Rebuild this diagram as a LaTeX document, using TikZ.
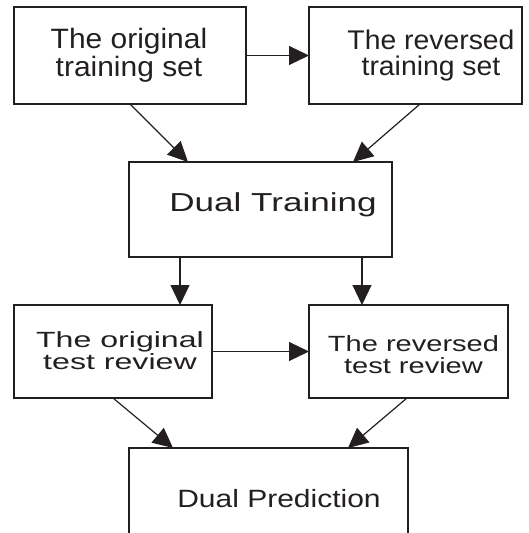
\documentclass[tikz,border=0pt]{standalone}
\usepackage{fontspec}
\usepackage{graphicx}
\setmainfont{Liberation Sans}
\usetikzlibrary{arrows.meta}
\definecolor{ink}{HTML}{231F20}
\newcommand{\wide}[2]{\scalebox{#1}[1]{#2}}
\begin{document}
\begin{tikzpicture}[x=1pt,y=-1pt,
  box/.style={draw=ink, line width=1.4pt, rectangle, inner sep=0pt, outer sep=0pt},
  arr/.style={draw=ink, line width=1.2pt, -{Triangle[length=20pt,width=19pt]}},
  lbl/.style={anchor=base, inner sep=0pt, text=ink, align=center},
  big/.style={lbl, font=\fontsize{28}{25}\selectfont},
  mid/.style={lbl, font=\fontsize{26}{28}\selectfont},
  small/.style={lbl, font=\fontsize{22}{21.5}\selectfont},
]
\useasboundingbox (0,0) rectangle (528,533);
\clip (0,0) rectangle (528,533);

% boxes
\node[box, minimum width=232pt, minimum height=97pt] (A) at (130,55.5) {};
\node[box, minimum width=213pt, minimum height=97pt] (B) at (415.5,55.5) {};
\node[box, minimum width=263pt, minimum height=95pt] (C) at (260.5,209.5) {};
\node[box, minimum width=198pt, minimum height=93pt] (D) at (113,351.5) {};
\node[box, minimum width=199pt, minimum height=93pt] (E) at (408.5,351.5) {};
\node[box, minimum width=279pt, minimum height=112pt] (F) at (268.5,504) {};

% labels (anchored at the baseline of the last line)
\node[big] (a) at (129,76) {\wide{1.07}{The original}\\\wide{1.07}{training set}};
\node[big, font=\fontsize{27}{26}\selectfont] (b) at (431,75) {\wide{1.05}{The reversed}\\\wide{1.05}{training set}};
\node[mid] (c) at (273,211) {\wide{1.35}{Dual Training}};
\node[small] (d) at (120,369) {\wide{1.46}{The original}\\\wide{1.46}{test review}};
\node[small] (e) at (413.5,373) {\wide{1.32}{The reversed}\\\wide{1.32}{test review}};
\node[lbl, font=\fontsize{25}{28}\selectfont] (f) at (279,507) {\wide{1.2}{Dual Prediction}};

% connectors
\draw[arr] (A.east) -- (B.west);
\draw[arr] ([xshift=116pt]A.south west) -- ([xshift=59pt]C.north west);
\draw[arr] ([xshift=111pt]B.south west) -- ([xshift=224pt]C.north west);
\draw[arr] ([xshift=51pt]C.south west) -- ([xshift=166pt]D.north west);
\draw[arr] ([xshift=233pt]C.south west) -- ([xshift=53pt]E.north west);
\draw[arr] (D.east) -- (E.west);
\draw[arr] ([xshift=99pt]D.south west) -- ([xshift=44pt]F.north west);
\draw[arr] ([xshift=98pt]E.south west) -- ([xshift=219pt]F.north west);
\end{tikzpicture}
\end{document}
